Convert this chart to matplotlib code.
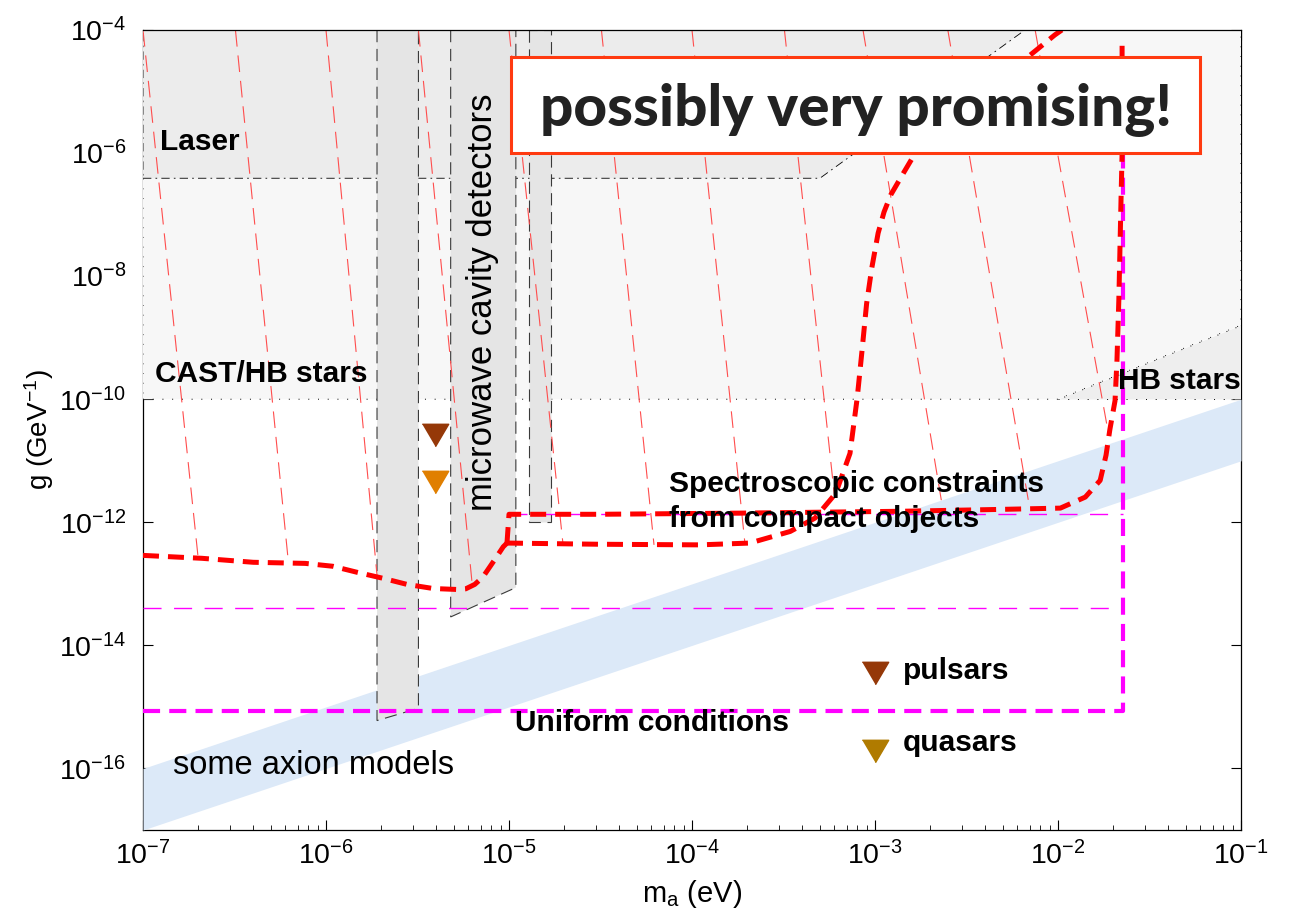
import numpy as np
import matplotlib
matplotlib.use("Agg")
import matplotlib.pyplot as plt
from matplotlib.patches import Polygon, Rectangle
from matplotlib.ticker import LogLocator, NullLocator

plt.rcParams['font.family'] = ['Liberation Sans', 'DejaVu Sans']
plt.rcParams['mathtext.fontset'] = 'custom'
plt.rcParams['mathtext.rm'] = 'Liberation Sans'
plt.rcParams['mathtext.it'] = 'Liberation Sans:italic'
plt.rcParams['mathtext.bf'] = 'Liberation Sans:bold'

# axes ranges: axion mass (eV), coupling (GeV^-1)
m_lim = [1e-7, 1e-1]
g_lim = [1e-17, 1e-4]
m_ticks = [1e-7, 1e-6, 1e-5, 1e-4, 1e-3, 1e-2, 1e-1]
g_ticks = [1e-16, 1e-14, 1e-12, 1e-10, 1e-8, 1e-6, 1e-4]

# excluded regions
cast_m = [1e-7, 1e-2, 1e-1, 1e-1, 1e-7]
cast_g = [1e-10, 1e-10, 1.6e-9, 1e-4, 1e-4]
hb_m = [1e-2, 1e-1, 1e-1]
hb_g = [1e-10, 1e-10, 1.6e-9]
laser_m = [1e-7, 5.0e-4, 6.6e-3, 1e-7]
laser_g = [3.9e-7, 3.9e-7, 1e-4, 1e-4]

# microwave cavity detector strips (left/right mass, bottom coupling left/right)
cavity_m = [[1.9e-6, 3.2e-6], [4.8e-6, 1.09e-5], [1.28e-5, 1.70e-5]]
cavity_g_bottom = [[6.0e-16, 9.5e-16], [2.9e-14, 8.7e-14], [1.0e-12, 1.0e-12]]

# "some axion models" band
band_m = [1e-7, 1e-1]
band_g_low = [1e-17, 1e-11]
band_g_high = [1e-16, 1e-10]

# spectroscopic constraints (thick red)
spec_low_m = [1.0e-7, 2.1e-7, 4.0e-7, 7.7e-7, 1.09e-6, 1.48e-6, 2.05e-6, 2.77e-6,
              3.85e-6, 5.2e-6, 5.8e-6, 6.5e-6, 7.2e-6, 8.3e-6, 9.3e-6, 9.75e-6]
spec_low_g = [2.9e-13, 2.6e-13, 2.24e-13, 2.15e-13, 1.93e-13, 1.54e-13, 1.23e-13, 9.8e-14,
              8.4e-14, 8.1e-14, 8.3e-14, 9.8e-14, 1.29e-13, 2.4e-13, 4.0e-13, 4.6e-13]
spec_upper_m = [9.75e-6, 1.0e-5, 3.1e-5, 1.83e-4, 1.37e-3, 4.8e-3, 1.03e-2, 1.41e-2, 1.70e-2,
                1.83e-2, 1.92e-2, 2.05e-2, 2.10e-2, 2.15e-2, 2.21e-2, 2.24e-2, 2.24e-2]
spec_upper_g = [4.6e-13, 1.35e-12, 1.35e-12, 1.41e-12, 1.51e-12, 1.62e-12, 1.70e-12, 2.57e-12, 4.8e-12,
                1.23e-11, 3.2e-11, 9.5e-11, 4.3e-10, 4.1e-9, 1.74e-7, 1e-6, 5.8e-5]
spec_lower_m = [9.75e-6, 3.1e-5, 1.1e-4, 2.07e-4, 3.44e-4, 4.7e-4, 6.1e-4, 7.3e-4, 8.0e-4, 8.5e-4,
                9.0e-4, 9.6e-4, 1.04e-3, 1.12e-3, 1.22e-3, 1.44e-3, 1.66e-3, 2.92e-3, 4.8e-3, 7.6e-3,
                9.6e-3, 1.05e-2]
spec_lower_g = [4.6e-13, 4.4e-13, 4.3e-13, 4.6e-13, 7.1e-13, 1.17e-12, 2.95e-12, 1.32e-11, 1.07e-10,
                6.3e-10, 3.6e-9, 1.35e-8, 5.0e-8, 1.1e-7, 2.1e-7, 4.9e-7, 1e-6, 4.7e-6, 1.55e-5, 4.7e-5,
                8.3e-5, 1e-4]

# thin red dashed lines (top mass, bottom mass, bottom coupling)
thin_top_m = [1e-7, 3.2e-7, 1e-6, 3.2e-6, 1e-5, 3.2e-5, 1e-4, 3.2e-4, 8.6e-4, 2.5e-3, 7.5e-3]
thin_bot_m = [2.0e-7, 6.2e-7, 1.9e-6, 6.3e-6, 1.97e-5, 6.2e-5, 1.95e-4, 6.0e-4, 2.35e-3, 7.0e-3, 1.87e-2]
thin_bot_g = [2.7e-13, 2.6e-13, 1.38e-13, 9.5e-14, 4.6e-13, 4.3e-13, 4.3e-13, 2.75e-12, 1.6e-12,
              1.7e-12, 3.2e-11]

# uniform conditions (magenta)
uniform_m_edge = 2.26e-2
uniform_g_thick = 8.5e-16
uniform_g_thin = 4.0e-14
uniform_g_top = 1.35e-12

# markers
cav_pulsar = (3.95e-6, 2.6e-11)
cav_quasar = (3.95e-6, 4.5e-12)
leg_pulsar = (1e-3, 3.6e-15)
leg_quasar = (1e-3, 1.9e-16)

fig = plt.figure(figsize=(12.9, 9.17), dpi=100)
ax = fig.add_axes([143 / 1290, 87 / 917, 1098 / 1290, 800 / 917])
ax.set_xscale('log')
ax.set_yscale('log')
ax.set_xlim(m_lim)
ax.set_ylim(g_lim)

# shaded regions
ax.add_patch(Polygon(list(zip(cast_m, cast_g)), closed=True, fc='#f7f7f7', ec='black',
                     lw=0.7, ls=(0, (1, 9)), zorder=3))
ax.add_patch(Polygon(list(zip(hb_m, hb_g)), closed=True, fc='#eeeeee', ec='black',
                     lw=0.7, ls=(0, (1, 9)), zorder=3.1))
ax.add_patch(Polygon(list(zip(laser_m, laser_g)), closed=True, fc='#ececec', ec='black',
                     lw=0.6, ls=(0, (10, 5, 2, 5)), zorder=3.2))
ax.fill_between(band_m, band_g_low, band_g_high, color='#dce9f8', lw=0, zorder=3.3)

for (ml, mr), (gl, gr) in zip(cavity_m, cavity_g_bottom):
    ax.add_patch(Polygon([(ml, 1e-4), (ml, gl), (mr, gr), (mr, 1e-4)], closed=True,
                         fc='#e5e5e5', ec='#3a3a3a', lw=0.8, ls=(0, (11, 6)), zorder=3.5))

# thin red dashed lines
for mt, mb, gb in zip(thin_top_m, thin_bot_m, thin_bot_g):
    ax.plot([mt, mb], [1e-4, gb], color='#ff4d4d', lw=0.8, ls=(0, (15, 8)), zorder=4)

# magenta uniform conditions
ax.plot([1e-7, uniform_m_edge], [uniform_g_thin, uniform_g_thin], color='#ff00ff', lw=1.0,
        ls=(0, (13, 9)), zorder=4.5)
ax.plot([1e-5, uniform_m_edge], [uniform_g_top, uniform_g_top], color='#ff00ff', lw=1.0,
        ls=(0, (13, 9)), zorder=4.5)
ax.plot([1e-7, uniform_m_edge, uniform_m_edge], [uniform_g_thick, uniform_g_thick, 1e-5],
        color='#ff00ff', lw=3.0, ls=(0, (4.1, 2.2)), zorder=5)

# spectroscopic constraints
for xs, ys in [(spec_low_m, spec_low_g), (spec_upper_m, spec_upper_g), (spec_lower_m, spec_lower_g)]:
    ax.plot(xs, ys, color='#ff0000', lw=3.6, ls=(0, (3.2, 1.8)), zorder=6)

# markers
tri = [(-1, 0.85), (1, 0.85), (0, -0.85)]
ax.plot(*cav_pulsar, marker=tri, ms=19, color='#953808', zorder=7)
ax.plot(*cav_quasar, marker=tri, ms=19, color='#e07f00', zorder=7)
ax.plot(*leg_pulsar, marker=tri, ms=19, color='#953808', zorder=7)
ax.plot(*leg_quasar, marker=tri, ms=19, color='#b07b00', zorder=7)

# labels
bold = dict(fontsize=21.5, fontweight='bold', color='black', zorder=8)
ax.text(1.24e-7, 1.5e-6, 'Laser', ha='left', va='center', **bold)
ax.text(1.16e-7, 2.6e-10, 'CAST/HB stars', ha='left', va='center', **bold)
ax.text(2.13e-2, 2.0e-10, 'HB stars', ha='left', va='center', clip_on=False, **bold)
ax.text(7.5e-5, 2.2e-12, 'Spectroscopic constraints\nfrom compact objects', ha='left',
        va='center', linespacing=1.32, **bold)
ax.text(1.08e-5, 5.4e-16, 'Uniform conditions', ha='left', va='center', **bold)
ax.text(1.42e-3, 3.9e-15, 'pulsars', ha='left', va='center', **bold)
ax.text(1.42e-3, 2.6e-16, 'quasars', ha='left', va='center', **bold)
ax.text(7.2e-6, 3.8e-9, 'microwave cavity detectors', rotation=90, ha='center', va='center',
        fontsize=25, zorder=8)
ax.text(1.46e-7, 1.12e-16, 'some axion models', ha='left', va='center', fontsize=23.5, zorder=8)

# highlight box
ax.add_patch(Rectangle((0.3352, 0.846), 0.6275, 0.12, transform=ax.transAxes, fc='white',
                       ec='#ff3a10', lw=2.2, zorder=9))
ax.text(0.649, 0.9, 'possibly very promising!', transform=ax.transAxes, ha='center', va='center',
        fontsize=42, fontweight='black', family=['Lato', 'DejaVu Sans'], color='#222222', zorder=10)

# axes styling
ax.set_xticks(m_ticks)
ax.set_yticks(g_ticks)
ax.yaxis.set_minor_locator(NullLocator())
ax.xaxis.set_minor_locator(LogLocator(base=10, subs=np.arange(2, 10), numticks=20))
ax.tick_params(which='both', direction='in', top=True, right=True, labelsize=20.5)
ax.tick_params(which='major', length=7, width=0.8)
ax.tick_params(which='minor', length=3.5, width=0.6)
ax.tick_params(axis='y', pad=12)
ax.tick_params(axis='x', pad=8)
for s in ax.spines.values():
    s.set_linewidth(0.9)
ax.spines['top'].set_zorder(10)

ax.set_xlabel('m$_\\mathregular{a}$ (eV)', fontsize=21)
ax.set_ylabel('g (GeV$^{-1}$)', fontsize=20)
ax.xaxis.set_label_coords(0.5, -0.06)
ax.yaxis.set_label_coords(-0.079, 0.5)

fig.savefig('out.png', dpi=100)
